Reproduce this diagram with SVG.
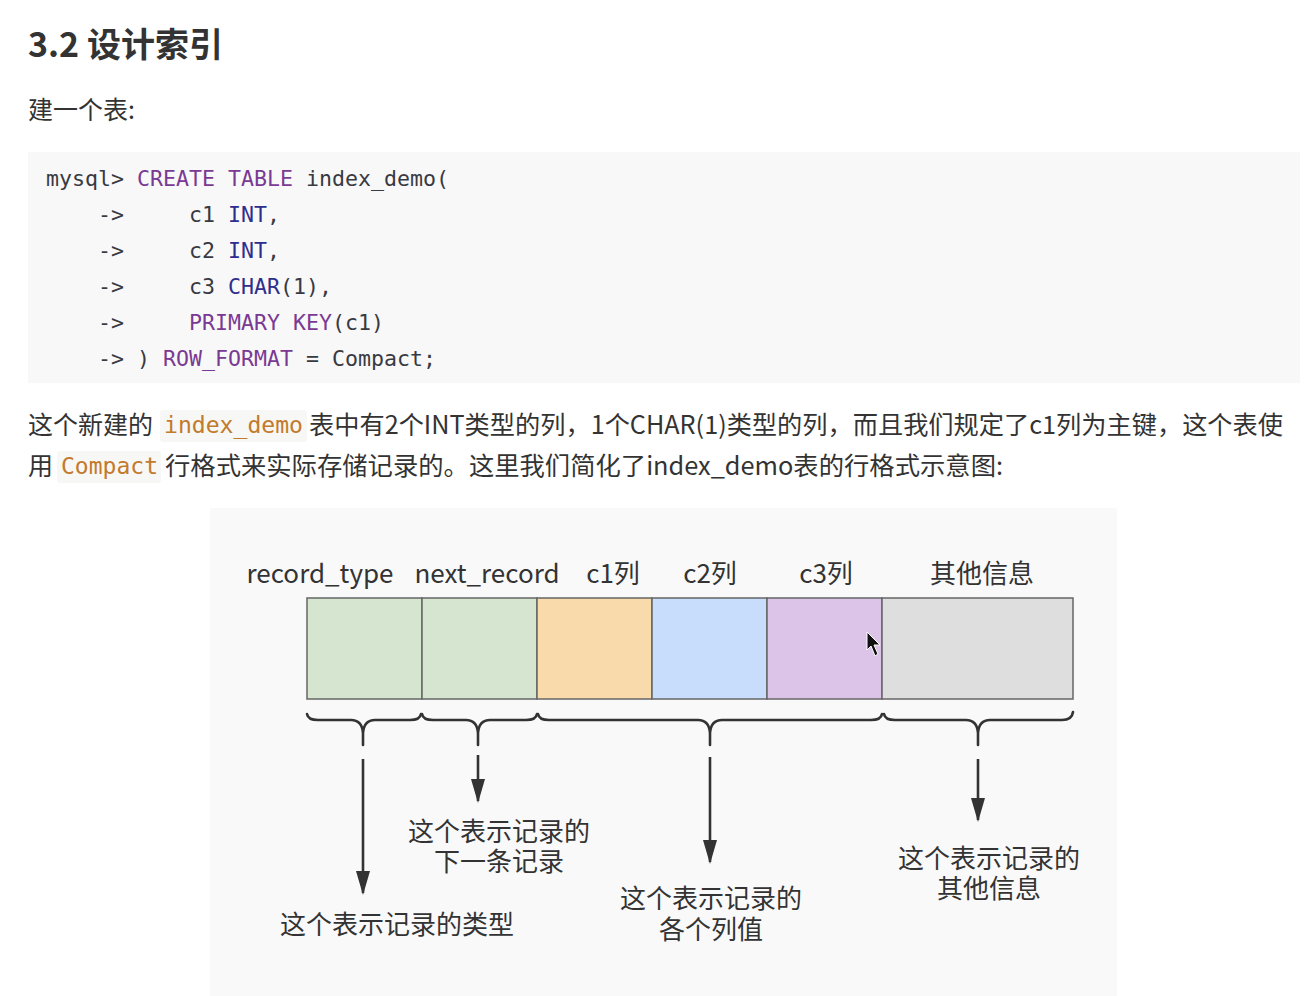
<svg xmlns="http://www.w3.org/2000/svg" width="1315" height="996" viewBox="0 0 1315 996">
<defs>
<style>
.cjk{font-family:"Noto Sans CJK SC","Noto Sans",sans-serif;fill:#333}
.mono{font-family:"DejaVu Sans Mono","Liberation Mono",monospace;font-size:21.6px;fill:#383a42}
.kw{fill:#7a3a94}
.ty{fill:#2e2e8c}
.icode{font-family:"DejaVu Sans Mono","Liberation Mono",monospace;font-size:22.5px;fill:#c27a2c}
.lbl{font-family:"Noto Sans CJK SC","Noto Sans",sans-serif;font-size:26px;fill:#333}
.cell{stroke:#666;stroke-width:1.5}
.brace{fill:none;stroke:#333;stroke-width:2.6;stroke-linecap:round}
.arr{stroke:#333;stroke-width:2.6;marker-end:url(#ah)}
</style>
<marker id="ah" viewBox="0 0 24 14" refX="22" refY="7" markerWidth="24" markerHeight="14" markerUnits="userSpaceOnUse" orient="auto">
<path d="M0,0 L24,7 L0,14 Z" fill="#333"/>
</marker>
</defs>
<rect width="1315" height="996" fill="#ffffff"/>

<g id="heading">
<text class="cjk" x="28" y="57" font-size="34" font-weight="bold" fill="#2e3440">3.2 设计索引</text>
</g>
<g id="intro">
<text class="cjk" x="28" y="119" font-size="25">建一个表:</text>
</g>

<g id="code">
<rect x="28" y="152" width="1272" height="231" fill="#f8f8f8"/>
<text class="mono" x="46" y="186" xml:space="preserve">mysql&gt; <tspan class="kw">CREATE</tspan> <tspan class="kw">TABLE</tspan> index_demo(</text>
<text class="mono" x="46" y="222" xml:space="preserve">    -&gt;     c1 <tspan class="ty">INT</tspan>,</text>
<text class="mono" x="46" y="258" xml:space="preserve">    -&gt;     c2 <tspan class="ty">INT</tspan>,</text>
<text class="mono" x="46" y="294" xml:space="preserve">    -&gt;     c3 <tspan class="ty">CHAR</tspan>(1),</text>
<text class="mono" x="46" y="330" xml:space="preserve">    -&gt;     <tspan class="kw">PRIMARY</tspan> <tspan class="kw">KEY</tspan>(c1)</text>
<text class="mono" x="46" y="366" xml:space="preserve">    -&gt; ) <tspan class="kw">ROW_FORMAT</tspan> = Compact;</text>
</g>

<g id="paragraph">
<rect x="160" y="410" width="147" height="32" rx="3" fill="#f7f7f5"/>
<rect x="57" y="451" width="104" height="32" rx="3" fill="#f7f7f5"/>
<text class="cjk" x="28" y="434" font-size="25">这个新建的</text>
<text class="icode" x="164" y="433" textLength="139" lengthAdjust="spacingAndGlyphs">index_demo</text>
<text class="cjk" x="309" y="434" font-size="25" textLength="974" lengthAdjust="spacingAndGlyphs">表中有2个INT类型的列，1个CHAR(1)类型的列，而且我们规定了c1列为主键，这个表使</text>
<text class="cjk" x="28" y="475" font-size="25">用</text>
<text class="icode" x="61" y="474" textLength="97" lengthAdjust="spacingAndGlyphs">Compact</text>
<text class="cjk" x="165" y="475" font-size="25" textLength="838" lengthAdjust="spacingAndGlyphs">行格式来实际存储记录的。这里我们简化了index_demo表的行格式示意图:</text>
</g>

<rect x="210" y="508" width="907" height="488" fill="#f9f9f9"/>

<g id="col-record_type">
<text class="lbl" x="320" y="583" text-anchor="middle">record_type</text>
<rect class="cell" x="307" y="598" width="115" height="101" fill="#d5e5cf"/>
</g>
<g id="col-next_record">
<text class="lbl" x="487" y="583" text-anchor="middle">next_record</text>
<rect class="cell" x="422" y="598" width="115" height="101" fill="#d5e5cf"/>
</g>
<g id="col-c1">
<text class="lbl" x="613" y="583" text-anchor="middle">c1列</text>
<rect class="cell" x="537" y="598" width="115" height="101" fill="#f9dbab"/>
</g>
<g id="col-c2">
<text class="lbl" x="710" y="583" text-anchor="middle">c2列</text>
<rect class="cell" x="652" y="598" width="115" height="101" fill="#c7ddfb"/>
</g>
<g id="col-c3">
<text class="lbl" x="826" y="583" text-anchor="middle">c3列</text>
<rect class="cell" x="767" y="598" width="115" height="101" fill="#dcc3e8"/>
</g>
<g id="col-other">
<text class="lbl" x="982" y="583" text-anchor="middle">其他信息</text>
<rect class="cell" x="882" y="598" width="191" height="101" fill="#dedede"/>
</g>

<g id="connectors">
<path class="brace" d="M307,714 Q308,720 318,720 L351,720 Q362,720 363,733 L363,745 M363,733 Q364,720 375,720 L410,720 Q420,720 421,714"/>
<path class="brace" d="M422,714 Q423,720 433,720 L466,720 Q477,720 478,733 L478,745 M478,733 Q479,720 490,720 L526,720 Q536,720 537,714"/>
<path class="brace" d="M538,714 Q539,720 549,720 L698,720 Q709,720 710,733 L710,745 M710,733 Q711,720 722,720 L871,720 Q881,720 882,714"/>
<path class="brace" d="M884,714 Q885,720 895,720 L966,720 Q977,720 978,733 L978,745 M978,733 Q979,720 990,720 L1062,720 Q1072,720 1073,712"/>
<line class="arr" x1="363" y1="759" x2="363" y2="893"/>
<line class="arr" x1="478" y1="755" x2="478" y2="801"/>
<line class="arr" x1="710" y1="757" x2="710" y2="862"/>
<line class="arr" x1="978" y1="759" x2="978" y2="820"/>
</g>

<g id="desc-type">
<text class="lbl" x="397" y="934" text-anchor="middle">这个表示记录的类型</text>
</g>
<g id="desc-next">
<text class="lbl" text-anchor="middle"><tspan x="499" y="841">这个表示记录的</tspan><tspan x="499" y="871">下一条记录</tspan></text>
</g>
<g id="desc-cols">
<text class="lbl" text-anchor="middle"><tspan x="711" y="908">这个表示记录的</tspan><tspan x="711" y="939">各个列值</tspan></text>
</g>
<g id="desc-other">
<text class="lbl" text-anchor="middle"><tspan x="989" y="868">这个表示记录的</tspan><tspan x="989" y="898">其他信息</tspan></text>
</g>

<g id="cursor">
<path d="M867,632 L867,650 L871,646 L875,656 L878,654 L874,645 L880,645 Z" fill="#111" stroke="#fff" stroke-width="1"/>
</g>
</svg>
